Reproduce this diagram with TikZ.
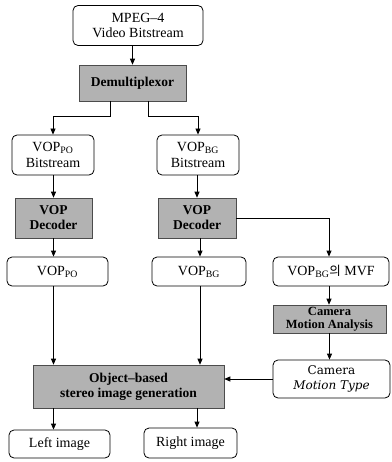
\documentclass[tikz,border=0pt]{standalone}
\usepackage{fontspec}
\setmainfont{Liberation Serif}
\newfontfamily\kofont{Noto Sans CJK KR}
\newfontfamily\dvserif{DejaVu Serif}
\usetikzlibrary{arrows.meta,calc}
\tikzset{
  wbox/.style={draw=black,line width=0.8pt,rounded corners=5pt,fill=white,align=center,inner sep=1pt,font=\fontsize{14}{15.5}\selectfont},
  gbox/.style={draw=black!70,line width=0.6pt,fill=black!30,align=center,inner sep=1pt,font=\bfseries\fontsize{13.5}{15}\selectfont},
  arr/.style={draw=black,line width=0.8pt,-{Triangle[length=6pt,width=5pt]}}
}
\begin{document}
\begin{tikzpicture}[x=1pt,y=-1pt]
\useasboundingbox (0,0) rectangle (391,462);
\node[wbox,minimum width=130pt,minimum height=40pt] (mpeg) at (138,25.5) {MPEG\textendash 4\\Video Bitstream};
\node[gbox,minimum width=107pt,minimum height=36pt] (demux) at (132.5,83) {Demultiplexor};
\node[wbox,minimum width=82pt,minimum height=40pt] (pobit) at (53,155) {VOP$_{\mathrm{PO}}$\\Bitstream};
\node[wbox,minimum width=82pt,minimum height=40pt] (bgbit) at (198,155) {VOP$_{\mathrm{BG}}$\\Bitstream};
\node[gbox,minimum width=77pt,minimum height=40pt] (decl) at (53.5,218) {VOP\\Decoder};
\node[gbox,minimum width=78pt,minimum height=40pt] (decr) at (197,218) {VOP\\Decoder};
\node[wbox,minimum width=101pt,minimum height=29pt] (voppo) at (57.5,271.5) {VOP$_{\mathrm{PO}}$};
\node[wbox,minimum width=94pt,minimum height=29pt] (vopbg) at (199,271.5) {VOP$_{\mathrm{BG}}$};
\node[wbox,minimum width=116pt,minimum height=29pt] (mvf) at (331,271.5) {VOP$_{\mathrm{BG}}${\kofont\fontsize{12.5}{14}\selectfont 의} MVF};
\node[gbox,minimum width=113pt,minimum height=28pt,font=\bfseries\fontsize{12.5}{13.5}\selectfont] (cma) at (329.5,319) {Camera\\Motion Analysis};
\node[wbox,minimum width=117pt,minimum height=38pt,font=\dvserif\fontsize{12}{14.5}\selectfont] (cmt) at (331.5,379) {Camera\\\textit{Motion Type}};
\node[gbox,minimum width=191pt,minimum height=43pt] (obj) at (128.5,386.5) {Object\textendash based\\stereo image generation};
\node[wbox,minimum width=101pt,minimum height=28pt] (left) at (59.5,444) {Left image};
\node[wbox,minimum width=93pt,minimum height=30pt] (right) at (190.5,443) {Right image};

\draw[arr] (mpeg.south -| demux.north) -- (demux.north);
\draw[arr] ([xshift=-22.5pt]demux.south) -- ++(0,15) -| (pobit.north);
\draw[arr] ([xshift=15.5pt]demux.south) -- ++(0,15) -| (bgbit.north);
\draw[arr] (pobit.south -| decl.north) -- (decl.north);
\draw[arr] (bgbit.south -| decr.north) -- (decr.north);
\draw[arr] (decl.south) -- (decl.south |- voppo.north);
\draw[arr] ([xshift=3pt]decr.south) -- ([xshift=3pt]decr.south |- vopbg.north);
\draw[arr] (decr.east) -| ([xshift=-2pt]mvf.north);
\draw[arr] ([xshift=-2pt]mvf.south) -- ([xshift=-2pt]mvf.south |- cma.north);
\draw[arr] (cma.south) -- (cma.south |- cmt.north);
\draw[arr] (decl.south |- voppo.south) -- (decl.south |- obj.north);
\draw[arr] ([xshift=3pt]decr.south |- vopbg.south) -- ([xshift=3pt]decr.south |- obj.north);
\draw[arr] (cmt.west) -- (obj.east |- cmt.west);
\draw[arr] (decl.south |- obj.south) -- (decl.south |- left.north);
\draw[arr] (decr.south |- obj.south) -- (decr.south |- right.north);
\end{tikzpicture}
\end{document}
